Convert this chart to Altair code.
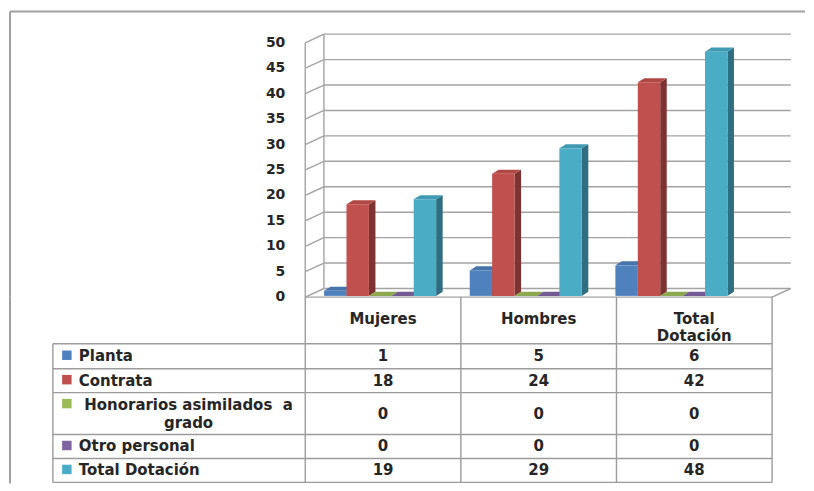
import altair as alt
import pandas as pd

# ---------------- data ----------------
grupos = ["Mujeres", "Hombres", "Total Dotación"]
encabezados = [["Mujeres"], ["Hombres"], ["Total", "Dotación"]]
series = ["Planta", "Contrata", "Honorarios asimilados  a grado", "Otro personal", "Total Dotación"]
etiquetas = [["Planta"], ["Contrata"], ["Honorarios asimilados\u00a0 a", "grado"], ["Otro personal"], ["Total Dotación"]]
planta = [1, 5, 6]
contrata = [18, 24, 42]
honorarios = [0, 0, 0]
otro_personal = [0, 0, 0]
total_dotacion = [19, 29, 48]
valores = [planta, contrata, honorarios, otro_personal, total_dotacion]
y_ticks = [0, 5, 10, 15, 20, 25, 30, 35, 40, 45, 50]

# ---------------- styles ----------------
colores_frente = ["#4F81BD", "#C0504D", "#9BBB59", "#8064A2", "#4BACC6"]
colores_tapa = ["#4674AB", "#B04845", "#8CA94F", "#735A93", "#409AB3"]
colores_lado = ["#33547C", "#7D3331", "#65793A", "#53416A", "#2F6E80"]
GRID = "#A3A3A3"
TXT = "#262626"
FONT = "DejaVu Sans"
FS = 15
FS_AX = 14
FW = "bold"

# ---------------- layout ----------------
PX = 156.0          # px per table column
PAD_TOP = 2
W = 797
H_TOP = 286
H_TAB = 187
X_DOM = [(9 - 305) / PX, (9 + W - 305) / PX]
PY = 5.1
Y0 = 285
Y_DOM = [-(H_TOP - Y0) / PY, Y0 / PY]

GC0, GSTEP, BW = 0.481, 0.936, 0.144
DXB, DYB = 0.042, 0.8
F, DXW, DYW, XR = -0.25, 0.12, 1.7, 3.0
X_LEFT = (52 - 305) / PX

xs = alt.Scale(domain=X_DOM, nice=False, zero=False)
ys = alt.Scale(domain=Y_DOM, nice=False, zero=False)
no_view = alt.ViewBackground(stroke="transparent", strokeWidth=0)

# ---------------- bars (3D faces) ----------------
frente, lado, tapa = [], [], []
for gi, g in enumerate(grupos):
    for si, s in enumerate(series):
        v = valores[si][gi]
        xl = GC0 + GSTEP * gi + (si - 2.5) * BW
        xr = xl + BW
        bid = f"{gi}-{si}"
        frente.append(dict(serie=s, xl=xl, xr=xr, v=v))
        lado += [dict(serie=s, bar=bid, x=xr, lo=0, hi=v),
                 dict(serie=s, bar=bid, x=xr + DXB, lo=DYB, hi=v + DYB)]
        tapa += [dict(serie=s, bar=bid, x=xl, lo=v, hi=v),
                 dict(serie=s, bar=bid, x=xl + DXB, lo=v, hi=v + DYB),
                 dict(serie=s, bar=bid, x=xr, lo=v, hi=v + DYB),
                 dict(serie=s, bar=bid, x=xr + DXB, lo=v + DYB, hi=v + DYB)]

def col(rng):
    return alt.Color("serie:N", scale=alt.Scale(domain=series, range=rng), legend=None)

capa_lado = alt.Chart(pd.DataFrame(lado)).mark_area(interpolate="linear").encode(
    x=alt.X("x:Q", scale=xs, axis=None),
    y=alt.Y("lo:Q", scale=ys, axis=None), y2="hi:Q",
    detail="bar:N", color=col(colores_lado))
capa_tapa = alt.Chart(pd.DataFrame(tapa)).mark_area(interpolate="linear").encode(
    x=alt.X("x:Q", scale=xs, axis=None),
    y=alt.Y("lo:Q", scale=ys, axis=None), y2="hi:Q",
    detail="bar:N", color=col(colores_tapa))
capa_frente = alt.Chart(pd.DataFrame(frente)).mark_rect().encode(
    x=alt.X("xl:Q", scale=xs, axis=None), x2="xr:Q",
    y=alt.Y("v:Q", scale=ys, axis=None), y2=alt.datum(0),
    color=col(colores_frente))

# ---------------- walls / gridlines ----------------
ymax = max(y_ticks)
lineas = []
for t in y_ticks:
    lineas.append(dict(x=DXW, x2=XR + DXW, y=t + F + DYW, y2=t + F + DYW))
    lineas.append(dict(x=0, x2=DXW, y=t + F, y2=t + F + DYW))
lineas += [dict(x=0, x2=0, y=F, y2=ymax + F),
           dict(x=DXW, x2=DXW, y=F + DYW, y2=ymax + F + DYW),
           dict(x=0, x2=XR, y=F, y2=F),
           dict(x=XR, x2=XR + DXW, y=F, y2=F + DYW)]
capa_grid = alt.Chart(pd.DataFrame(lineas)).mark_rule(color=GRID, strokeWidth=1.4).encode(
    x=alt.X("x:Q", scale=xs, axis=None), x2="x2:Q",
    y=alt.Y("y:Q", scale=ys, axis=None), y2="y2:Q")

etq_y = pd.DataFrame(dict(t=y_ticks, yy=[t + F for t in y_ticks], x=[0.0] * len(y_ticks)))
capa_ejey = alt.Chart(etq_y).mark_text(align="right", baseline="middle", dx=-20,
                                        font=FONT, fontSize=FS_AX, fontWeight=FW, color=TXT).encode(
    x=alt.X("x:Q", scale=xs, axis=None),
    y=alt.Y("yy:Q", scale=ys, axis=None), text="t:Q")

marco_top = alt.Chart(pd.DataFrame({"a": [0]})).mark_rule(color="#A0A0A0", strokeWidth=2).encode(
    x=alt.value(0), x2=alt.value(W), y=alt.value(0))
marco_izq = alt.Chart(pd.DataFrame({"a": [0]})).mark_rule(color="#A0A0A0", strokeWidth=2).encode(
    x=alt.value(0), y=alt.value(0), y2=alt.value(H_TOP))

top = alt.layer(capa_grid, capa_lado, capa_tapa, capa_frente, capa_ejey, marco_top, marco_izq).resolve_scale(
    color="independent").properties(width=W, height=H_TOP, view=no_view)

# ---------------- data table ----------------
ALTO_FILAS = [47, 25, 24, 42, 24, 24]
bordes = [0]
for h in ALTO_FILAS:
    bordes.append(bordes[-1] + h)
centros = [(bordes[i + 1] + bordes[i + 2]) / 2 for i in range(len(series))]
LH = 18

tys = alt.Scale(domain=[0, H_TAB], reverse=True, nice=False, zero=False)

tl = []
for b in bordes[1:]:
    tl.append(dict(x=X_LEFT, x2=XR, y=b, y2=b))
for c in range(len(grupos) + 1):
    tl.append(dict(x=float(c), x2=float(c), y=0, y2=bordes[-1]))
tl.append(dict(x=X_LEFT, x2=X_LEFT, y=bordes[1], y2=bordes[-1]))
capa_tl = alt.Chart(pd.DataFrame(tl)).mark_rule(color="#9C9C9C", strokeWidth=1.4).encode(
    x=alt.X("x:Q", scale=xs, axis=None), x2="x2:Q",
    y=alt.Y("y:Q", scale=tys, axis=None), y2="y2:Q")

hdr = []
for gi, lineas_h in enumerate(encabezados):
    for k, txt in enumerate(lineas_h):
        hdr.append(dict(x=gi + 0.5, y=22 + k * 17, t=txt))
capa_hdr = alt.Chart(pd.DataFrame(hdr)).mark_text(baseline="middle", align="center",
                                                  font=FONT, fontSize=FS, fontWeight=FW, color=TXT).encode(
    x=alt.X("x:Q", scale=xs, axis=None), y=alt.Y("y:Q", scale=tys, axis=None), text="t:N")

vals = []
for si, s in enumerate(series):
    for gi, g in enumerate(grupos):
        vals.append(dict(x=gi + 0.5, y=centros[si], t=str(valores[si][gi])))
capa_vals = alt.Chart(pd.DataFrame(vals)).mark_text(baseline="middle", align="center",
                                                    font=FONT, fontSize=FS, fontWeight=FW, color=TXT).encode(
    x=alt.X("x:Q", scale=xs, axis=None), y=alt.Y("y:Q", scale=tys, axis=None), text="t:N")

lab1, lab2, sq = [], [], []
for i, s in enumerate(series):
    n = len(etiquetas[i])
    for k, txt in enumerate(etiquetas[i]):
        yy = centros[i] + (k - (n - 1) / 2) * LH
        if n == 1:
            lab1.append(dict(x=(78 - 305) / PX, y=yy, t=txt))
        else:
            lab2.append(dict(x=(188 - 305) / PX, y=yy, t=txt))
    sq.append(dict(serie=s, x=(66 - 305) / PX, y=centros[i] - (n - 1) / 2 * LH - 1))

capa_lab1 = alt.Chart(pd.DataFrame(lab1)).mark_text(baseline="middle", align="left",
                                                    font=FONT, fontSize=FS, fontWeight=FW, color=TXT).encode(
    x=alt.X("x:Q", scale=xs, axis=None), y=alt.Y("y:Q", scale=tys, axis=None), text="t:N")
capa_lab2 = alt.Chart(pd.DataFrame(lab2)).mark_text(baseline="middle", align="center",
                                                    font=FONT, fontSize=FS, fontWeight=FW, color=TXT).encode(
    x=alt.X("x:Q", scale=xs, axis=None), y=alt.Y("y:Q", scale=tys, axis=None), text="t:N")
capa_sq = alt.Chart(pd.DataFrame(sq)).mark_square(size=90, opacity=1).encode(
    x=alt.X("x:Q", scale=xs, axis=None), y=alt.Y("y:Q", scale=tys, axis=None),
    color=col(colores_frente))

marco_izq2 = alt.Chart(pd.DataFrame({"a": [0]})).mark_rule(color="#A0A0A0", strokeWidth=2).encode(
    x=alt.value(0), y=alt.value(0), y2=alt.value(H_TAB))

tabla = alt.layer(capa_tl, capa_hdr, capa_vals, capa_lab1, capa_lab2, capa_sq, marco_izq2).properties(
    width=W, height=H_TAB, view=no_view)

chart = alt.vconcat(top, tabla, spacing=0).properties(
    padding={"left": 1, "top": PAD_TOP, "right": 0, "bottom": 0},
    bounds="flush",
).configure_view(stroke="transparent", strokeWidth=0).configure(background="white")

chart.save("out.html", embed_options={"renderer": "svg", "actions": False})
